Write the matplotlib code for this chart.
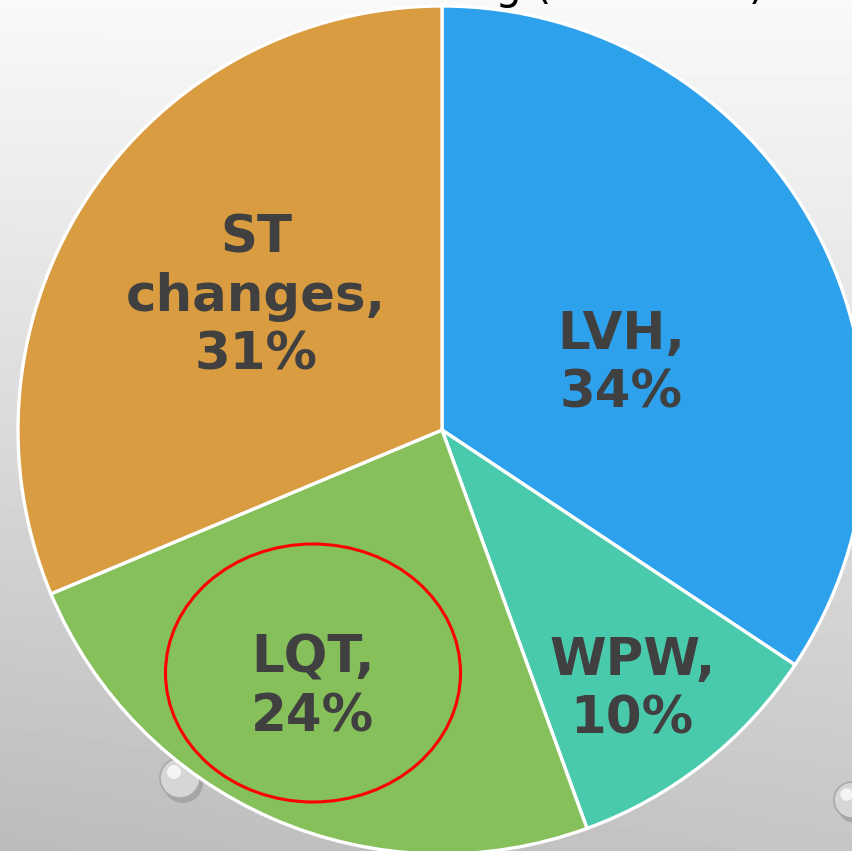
import numpy as np
import matplotlib.pyplot as plt
from matplotlib.patches import Ellipse, Circle

# Data
labels = ['LVH', 'WPW', 'LQT', 'ST\nchanges']
shares = [34, 10, 24, 31]
colors = ['#2EA1EC', '#4ACAAD', '#86C05A', '#D99C40']
title = 'ECG screening (abnormal)'

# label placement: fraction of radius along the slice middle
label_r = [0.45, 0.76, 0.68, 0.54]
label_shift = [-8, -2, -3, -2]  # degrees

W, H, DPI = 853, 851, 100
cx, cy, R = 442, 430, 424  # pie centre / radius in pixels

fig = plt.figure(figsize=(W / DPI, H / DPI), dpi=DPI)
ax = fig.add_axes([0, 0, 1, 1])
x0, x1 = -cx / R, (W - cx) / R
y0, y1 = -(H - cy) / R, cy / R
ax.set_aspect('equal')
ax.axis('off')

# grey slide background, light at top
grad = np.linspace(0, 1, 256)[:, None] * np.ones((1, 256))
xs = np.linspace(0, 1, 256)[None, :]
bg = 0.975 - 0.2 * grad - 0.04 * (1 - xs) * grad
ax.imshow(bg, cmap='gray', vmin=0, vmax=1, extent=[x0, x1, y0, y1],
          origin='upper', aspect='auto', zorder=0)

# a few water droplets on the slide
for (px, py, pr) in [(180, 778, 20), (852, 800, 18)]:
    ax.add_patch(Circle(((px - cx + 3) / R, (cy - py - 5) / R), pr / R, facecolor='#8a8a8a',
                        edgecolor='none', alpha=0.5, zorder=1))
    ax.add_patch(Circle(((px - cx) / R, (cy - py) / R), pr / R, facecolor='#d6d6d6',
                        edgecolor='#a8a8a8', lw=1.2, zorder=1))
    ax.add_patch(Circle(((px - cx - pr * 0.3) / R, (cy - py + pr * 0.3) / R), pr * 0.35 / R,
                        facecolor='#f4f4f4', edgecolor='none', zorder=1))

wedges, _ = ax.pie(shares, colors=colors, startangle=90, counterclock=False,
                   radius=1, center=(0, 0),
                   wedgeprops=dict(edgecolor='white', linewidth=2.4))
for w in wedges:
    w.set_zorder(2)

ax.set_xlim(x0, x1)
ax.set_ylim(y0, y1)

for w, lab, val, fr, sh in zip(wedges, labels, shares, label_r, label_shift):
    ang = np.deg2rad((w.theta1 + w.theta2) / 2 + sh)
    ax.text(fr * np.cos(ang), fr * np.sin(ang), f'{lab},\n{val}%',
            ha='center', va='center', fontsize=37, fontweight='bold',
            color='#404040', linespacing=1.22, family='DejaVu Sans', zorder=4)

# red highlight around LQT
ax.add_patch(Ellipse(((313 - cx) / R, (cy - 673) / R), 295 / R, 258 / R,
                     fill=False, edgecolor='#FF0000', lw=2.2, zorder=5))

# slide title, mostly cut off at the top
fig.text(0.255, 1.0 + 1 / H, title, ha='left', va='baseline', fontsize=30,
         color='black', family='DejaVu Sans')

fig.savefig('out.png', dpi=DPI)
